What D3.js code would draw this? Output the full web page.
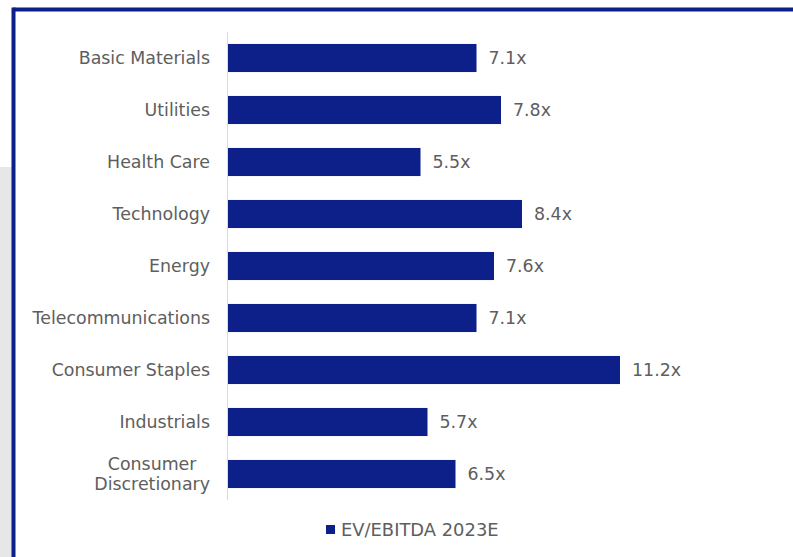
<!DOCTYPE html>
<html>
<head>
<meta charset="utf-8">
<script src="https://cdn.jsdelivr.net/npm/d3@7"></script>
<style>
  html, body { margin: 0; padding: 0; background: #fff; }
  svg { display: block; }
  text { font-family: Verdana, "DejaVu Sans", sans-serif; fill: #5e5e5e; }
</style>
</head>
<body>
<script>
// Sector multiples, top to bottom
const sectors = [
  ["Basic Materials"],
  ["Utilities"],
  ["Health Care"],
  ["Technology"],
  ["Energy"],
  ["Telecommunications"],
  ["Consumer Staples"],
  ["Industrials"],
  ["Consumer", "Discretionary"]
];
const multiples = [7.1, 7.8, 5.5, 8.4, 7.6, 7.1, 11.2, 5.7, 6.5];
const seriesName = "EV/EBITDA 2023E";

const W = 793, H = 557;
const navy = "#0d1f88";
const fs = 17.4;

const svg = d3.select("body").append("svg")
  .attr("width", W).attr("height", H);

// panel background: grey strip on the left and the navy frame
svg.append("rect").attr("x", 0).attr("y", 167).attr("width", 13).attr("height", H - 167)
  .attr("fill", "#e7e7e7");
svg.append("line").attr("x1", 13.5).attr("x2", W).attr("y1", 9.5).attr("y2", 9.5)
  .attr("stroke", navy).attr("stroke-width", 4);
svg.append("line").attr("x1", 13.5).attr("x2", 13.5).attr("y1", 7.5).attr("y2", H)
  .attr("stroke", navy).attr("stroke-width", 4);

const x0 = 228;
const x = d3.scaleLinear().domain([0, 11.2]).range([x0, 620]);
const y = d3.scaleBand()
  .domain(d3.range(sectors.length))
  .range([32, 500])
  .paddingInner(0.46)
  .paddingOuter(0.23);

// category axis line
svg.append("line")
  .attr("x1", x0 - 0.5).attr("x2", x0 - 0.5)
  .attr("y1", 32).attr("y2", 500)
  .attr("stroke", "#d9d9d9").attr("stroke-width", 1);

const rows = svg.append("g").selectAll("g")
  .data(multiples)
  .join("g");

rows.append("rect")
  .attr("x", x(0))
  .attr("y", (d, i) => y(i))
  .attr("width", d => x(d) - x(0))
  .attr("height", y.bandwidth())
  .attr("fill", navy);

rows.append("text")
  .attr("x", d => x(d) + 12)
  .attr("y", (d, i) => y(i) + y.bandwidth() / 2)
  .attr("dy", "0.35em")
  .attr("font-size", fs)
  .text(d => d3.format(".1f")(d) + "x");

// category labels (multi-line labels are centred on their widest line)
const labelRight = 210;
sectors.forEach((lines, i) => {
  const cy = y(i) + y.bandwidth() / 2;
  const lh = 20;
  const g = svg.append("g");
  const ts = lines.map((t, k) => g.append("text")
    .attr("font-size", fs)
    .attr("y", cy + (k - (lines.length - 1) / 2) * lh)
    .attr("dy", "0.35em")
    .text(t));
  if (lines.length === 1) {
    ts[0].attr("x", labelRight).attr("text-anchor", "end");
  } else {
    const wMax = d3.max(ts, t => t.node().getComputedTextLength());
    ts.forEach(t => t.attr("x", labelRight - wMax / 2).attr("text-anchor", "middle"));
  }
});

// legend
const lg = svg.append("g");
lg.append("rect").attr("x", 326).attr("y", 525).attr("width", 9).attr("height", 9)
  .attr("fill", navy);
lg.append("text").attr("x", 341).attr("y", 529.5).attr("dy", "0.35em")
  .attr("font-size", 17.9).text(seriesName);
</script>
</body>
</html>
